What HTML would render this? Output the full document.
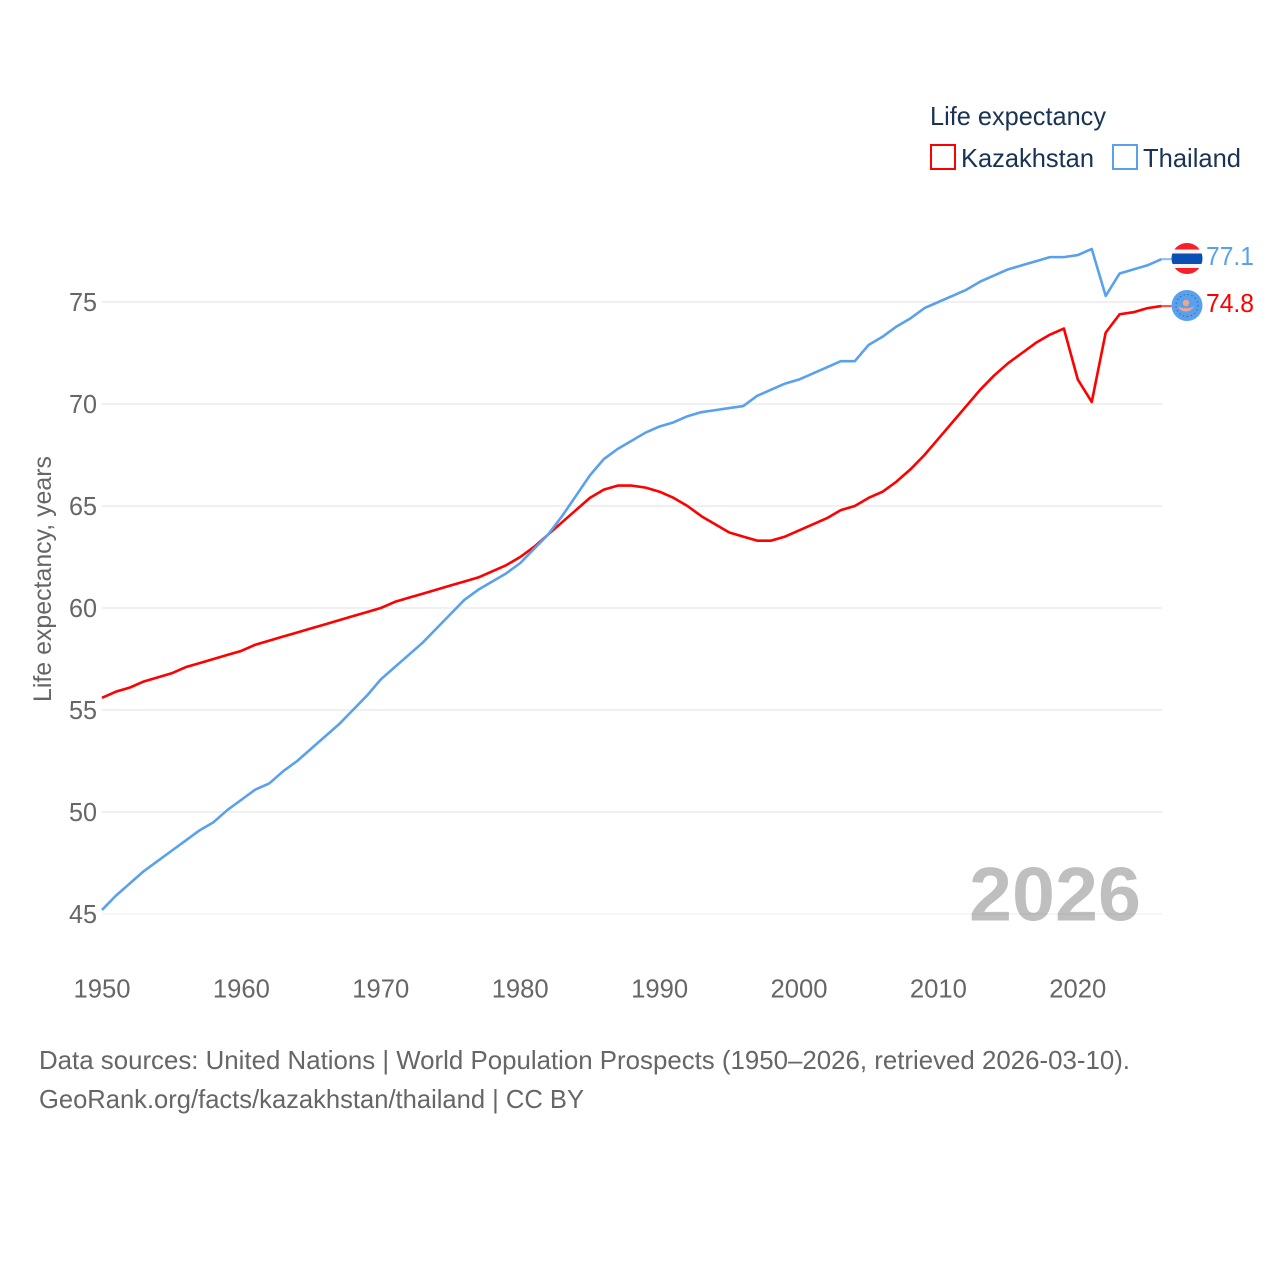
<!DOCTYPE html>
<html lang="en">
<head>
<meta charset="utf-8">
<title>Life expectancy: Kazakhstan and Thailand</title>
<style>
html,body{margin:0;padding:0;background:#fff;}
svg{display:block;}
text{font-family:"Liberation Sans",sans-serif;}
</style>
</head>
<body>
<svg id="chart" xmlns="http://www.w3.org/2000/svg" width="1280" height="1280" viewBox="0 0 1280 1280">
  <defs>
    <clipPath id="clip-th"><circle cx="1187" cy="258.5" r="15.5"/></clipPath>
    <clipPath id="clip-kz"><circle cx="1187" cy="305.5" r="15.5"/></clipPath>
  </defs>
  <rect width="1280" height="1280" fill="#fff"/>
  <g id="grid"></g>
  <g id="yticks"></g>
  <g id="xticks"></g>
  <text transform="translate(51,702) rotate(-90)" font-size="25" fill="#666" textLength="246" lengthAdjust="spacingAndGlyphs">Life expectancy, years</text>
  <text x="969" y="920.5" font-size="76" font-weight="700" fill="#000" fill-opacity="0.25" textLength="172" lengthAdjust="spacingAndGlyphs">2026</text>
  <g id="series"></g>

  <g clip-path="url(#clip-th)">
    <rect x="1171" y="243" width="32" height="32" fill="#f5f5f5"/>
    <rect x="1171" y="243" width="32" height="6.5" fill="#f5202a"/>
    <rect x="1171" y="253.5" width="32" height="10.5" fill="#0a50b4"/>
    <rect x="1171" y="268" width="32" height="7" fill="#f5202a"/>
  </g>
  <g>
    <circle cx="1187" cy="305.5" r="15.5" fill="#5aa1ed"/>
    <circle cx="1187" cy="305.5" r="11" fill="none" stroke="#2f6fb5" stroke-width="1.2" stroke-dasharray="1.4 2.6"/>
    <circle cx="1186" cy="303" r="3.2" fill="#f0a58c"/>
    <path d="M1178 306 Q1183 309 1186 308 Q1189 309 1194 306 Q1191 312 1186 311.5 Q1181 312 1178 306Z" fill="#f0a58c"/>
  </g>

  <text id="end-th" x="1206" y="265" font-size="26" fill="#5aa1ed" textLength="48" lengthAdjust="spacingAndGlyphs"></text>
  <text id="end-kz" x="1206" y="312" font-size="26" fill="#ff0000" textLength="48" lengthAdjust="spacingAndGlyphs"></text>

  <g>
    <text x="930" y="125" font-size="26" fill="#1a3354" textLength="176" lengthAdjust="spacingAndGlyphs">Life expectancy</text>
    <g>
      <rect x="931" y="145" width="24" height="24" fill="none" stroke="#ff0000" stroke-width="2"/>
      <text x="961" y="167" font-size="26" fill="#1a3354" textLength="133" lengthAdjust="spacingAndGlyphs">Kazakhstan</text>
    </g>
    <g>
      <rect x="1113" y="145" width="24" height="24" fill="none" stroke="#5aa1ed" stroke-width="2"/>
      <text x="1143" y="167" font-size="26" fill="#1a3354" textLength="98" lengthAdjust="spacingAndGlyphs">Thailand</text>
    </g>
  </g>

  <text x="39" y="1069" font-size="26" fill="#666" textLength="1091" lengthAdjust="spacingAndGlyphs">Data sources: United Nations | World Population Prospects (1950–2026, retrieved 2026-03-10).</text>
  <text x="39" y="1108" font-size="26" fill="#666" textLength="545" lengthAdjust="spacingAndGlyphs">GeoRank.org/facts/kazakhstan/thailand | CC BY</text>
</svg>
<script>
const startYear = 1950;
const xTickLabels = [1950, 1960, 1970, 1980, 1990, 2000, 2010, 2020];
const yTickLabels = [45, 50, 55, 60, 65, 70, 75];
const kazakhstan = [55.6,55.9,56.1,56.4,56.6,56.8,57.1,57.3,57.5,57.7,57.9,58.2,58.4,58.6,58.8,59.0,59.2,59.4,59.6,59.8,60.0,60.3,60.5,60.7,60.9,61.1,61.3,61.5,61.8,62.1,62.5,63.0,63.6,64.2,64.8,65.4,65.8,66.0,66.0,65.9,65.7,65.4,65.0,64.5,64.1,63.7,63.5,63.3,63.3,63.5,63.8,64.1,64.4,64.8,65.0,65.4,65.7,66.2,66.8,67.5,68.3,69.1,69.9,70.7,71.4,72.0,72.5,73.0,73.4,73.7,71.2,70.1,73.5,74.4,74.5,74.7,74.8];
const thailand = [45.2,45.9,46.5,47.1,47.6,48.1,48.6,49.1,49.5,50.1,50.6,51.1,51.4,52.0,52.5,53.1,53.7,54.3,55.0,55.7,56.5,57.1,57.7,58.3,59.0,59.7,60.4,60.9,61.3,61.7,62.2,62.9,63.6,64.5,65.5,66.5,67.3,67.8,68.2,68.6,68.9,69.1,69.4,69.6,69.7,69.8,69.9,70.4,70.7,71.0,71.2,71.5,71.8,72.1,72.1,72.9,73.3,73.8,74.2,74.7,75.0,75.3,75.6,76.0,76.3,76.6,76.8,77.0,77.2,77.2,77.3,77.6,75.3,76.4,76.6,76.8,77.1];

const NS = 'http://www.w3.org/2000/svg';
function xScale(year) { return 102 + (year - 1950) * 13.94; }
function yScale(value) { return 302 + (75 - value) * 20.4; }
function make(tag, parentId) {
  const el = document.createElementNS(NS, tag);
  document.getElementById(parentId).appendChild(el);
  return el;
}

yTickLabels.forEach(function (v, i) {
  const line = make('line', 'grid');
  
  
  line.setAttribute('x1', 102);
  line.setAttribute('x2', 1162);
  line.setAttribute('y1', yScale(v));
  line.setAttribute('y2', yScale(v));
  line.setAttribute('stroke', i === 0 ? '#f2f2f2' : '#e6e6e6');
  line.setAttribute('stroke-width', 1.3);

  const t = make('text', 'yticks');
  
  
  t.setAttribute('x', 69);
  t.setAttribute('y', yScale(v) + 9);
  t.setAttribute('font-size', 26);
  t.setAttribute('fill', '#666');
  t.setAttribute('textLength', 28);
  t.setAttribute('lengthAdjust', 'spacingAndGlyphs');
  t.textContent = v;
});

xTickLabels.forEach(function (y) {
  const t = make('text', 'xticks');
  
  
  t.setAttribute('x', xScale(y) - 28.5);
  t.setAttribute('y', 997.5);
  t.setAttribute('font-size', 26);
  t.setAttribute('fill', '#666');
  t.setAttribute('textLength', 57);
  t.setAttribute('lengthAdjust', 'spacingAndGlyphs');
  t.textContent = y;
});

function drawSeries(values, color, name) {
  const pts = values.map(function (v, i) {
    return xScale(startYear + i).toFixed(2) + ',' + yScale(v).toFixed(2);
  }).join(' ');
  const line = make('polyline', 'series');
  
  
  line.setAttribute('points', pts);
  line.setAttribute('fill', 'none');
  line.setAttribute('stroke', color);
  line.setAttribute('stroke-width', 2.6);
  line.setAttribute('stroke-linejoin', 'round');

  const last = values[values.length - 1];
  const lastYear = startYear + values.length - 1;
  const conn = make('line', 'series');
  
  
  conn.setAttribute('x1', xScale(lastYear));
  conn.setAttribute('x2', xScale(lastYear) + 10);
  conn.setAttribute('y1', yScale(last));
  conn.setAttribute('y2', yScale(last));
  conn.setAttribute('stroke', color);
  conn.setAttribute('stroke-width', 2);
  conn.setAttribute('stroke-opacity', 0.7);
}
drawSeries(kazakhstan, '#ff0000', 'kazakhstan');
drawSeries(thailand, '#5aa1ed', 'thailand');

document.getElementById('end-th').textContent = thailand[thailand.length - 1].toFixed(1);
document.getElementById('end-kz').textContent = kazakhstan[kazakhstan.length - 1].toFixed(1);
</script>
</body>
</html>
